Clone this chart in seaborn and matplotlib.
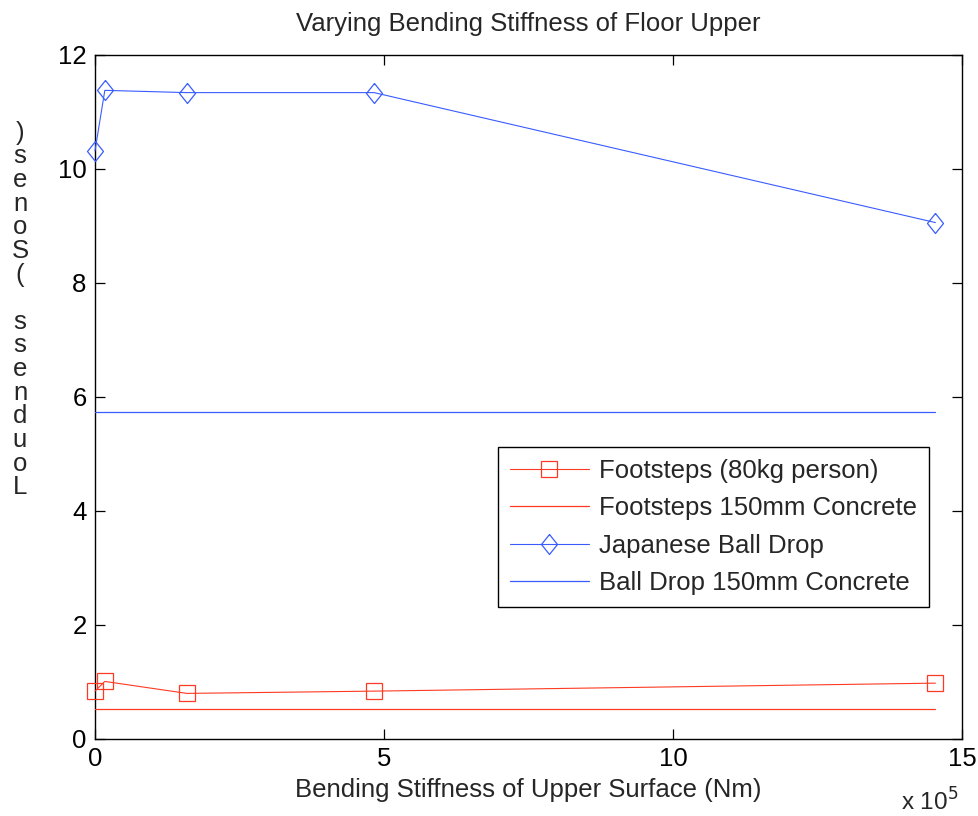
import matplotlib
matplotlib.use("Agg")
import matplotlib.pyplot as plt
import seaborn as sns
import pandas as pd

# Bending stiffness of the upper surface, in units of 10^5 Nm
stiffness = [0.0, 0.17, 1.59, 4.83, 14.54]

# Loudness (sones) for each test
footsteps = [0.84, 1.01, 0.80, 0.84, 0.98]
ball_drop = [10.32, 11.38, 11.34, 11.34, 9.06]

# Reference values for a 150 mm concrete slab
footsteps_concrete = 0.52
ball_drop_concrete = 5.74

RED = "#ff3a22"
BLUE = "#3a5cff"
FS = 18.5

sns.set_theme(style="white")
plt.rcParams["font.family"] = ["Liberation Sans", "DejaVu Sans"]

fig = plt.figure(figsize=(9.79, 8.16), dpi=100)
ax = fig.add_axes([95 / 979, 1 - 739 / 816, 867 / 979, 684 / 816])

df = pd.DataFrame({
    "stiffness": stiffness,
    "footsteps": footsteps,
    "ball_drop": ball_drop,
    "footsteps_concrete": [footsteps_concrete] * len(stiffness),
    "ball_drop_concrete": [ball_drop_concrete] * len(stiffness),
})

diamond = [(0, 1), (0.8, 0), (0, -1), (-0.8, 0), (0, 1)]

sns.lineplot(data=df, x="stiffness", y="footsteps", ax=ax, color=RED,
             lw=0.8, marker="s", markersize=11.5, markerfacecolor="none",
             markeredgecolor=RED, markeredgewidth=0.9, sort=False,
             estimator=None, label="Footsteps (80kg person)", clip_on=False)
sns.lineplot(data=df, x="stiffness", y="footsteps_concrete", ax=ax,
             color=RED, lw=0.9, sort=False, estimator=None,
             label="Footsteps 150mm Concrete")
sns.lineplot(data=df, x="stiffness", y="ball_drop", ax=ax, color=BLUE,
             lw=0.8, marker=diamond, markersize=14.4, markerfacecolor="none",
             markeredgecolor=BLUE, markeredgewidth=0.9, sort=False,
             estimator=None, label="Japanese Ball Drop", clip_on=False)
sns.lineplot(data=df, x="stiffness", y="ball_drop_concrete", ax=ax,
             color=BLUE, lw=0.9, sort=False, estimator=None,
             label="Ball Drop 150mm Concrete")

ax.set_xlim(0, 15)
ax.set_ylim(0, 12)
ax.set_xticks([0, 5, 10, 15])
ax.set_yticks([0, 2, 4, 6, 8, 10, 12])

for s in ax.spines.values():
    s.set_visible(True)
    s.set_color("black")
    s.set_linewidth(1.0)
    s.set_zorder(1)

ax.tick_params(direction="in", length=7, width=0.9, colors="black",
               labelsize=FS, top=True, right=True, bottom=True, left=True,
               pad=6)

ax.set_title("Varying Bending Stiffness of Floor Upper", fontsize=FS, pad=17.5)
ax.set_xlabel("Bending Stiffness of Upper Surface (Nm)", fontsize=FS,
              labelpad=5)
ax.set_ylabel("")

# Stacked, character-by-character y label
ylabel = "Loudness (Sones)"
fig.text(20 / 979, 1 - 310 / 816, "\n".join(reversed(ylabel)),
         ha="center", va="center", fontsize=FS, linespacing=0.98)

# Exponent of the x axis scale
fig.text(930 / 979, 1 - 811 / 816, r"x 10$^5$", ha="center", va="baseline",
         fontsize=17.5)

leg = ax.legend(loc="upper left", bbox_to_anchor=(0.4648, 0.4269),
                borderaxespad=0, fontsize=FS, fancybox=False, shadow=False,
                framealpha=1, edgecolor="black", handlelength=3.1,
                handletextpad=0.4, labelspacing=0.53, borderpad=0.45)
leg.get_frame().set_linewidth(1.0)

fig.savefig("out.png", dpi=100)
